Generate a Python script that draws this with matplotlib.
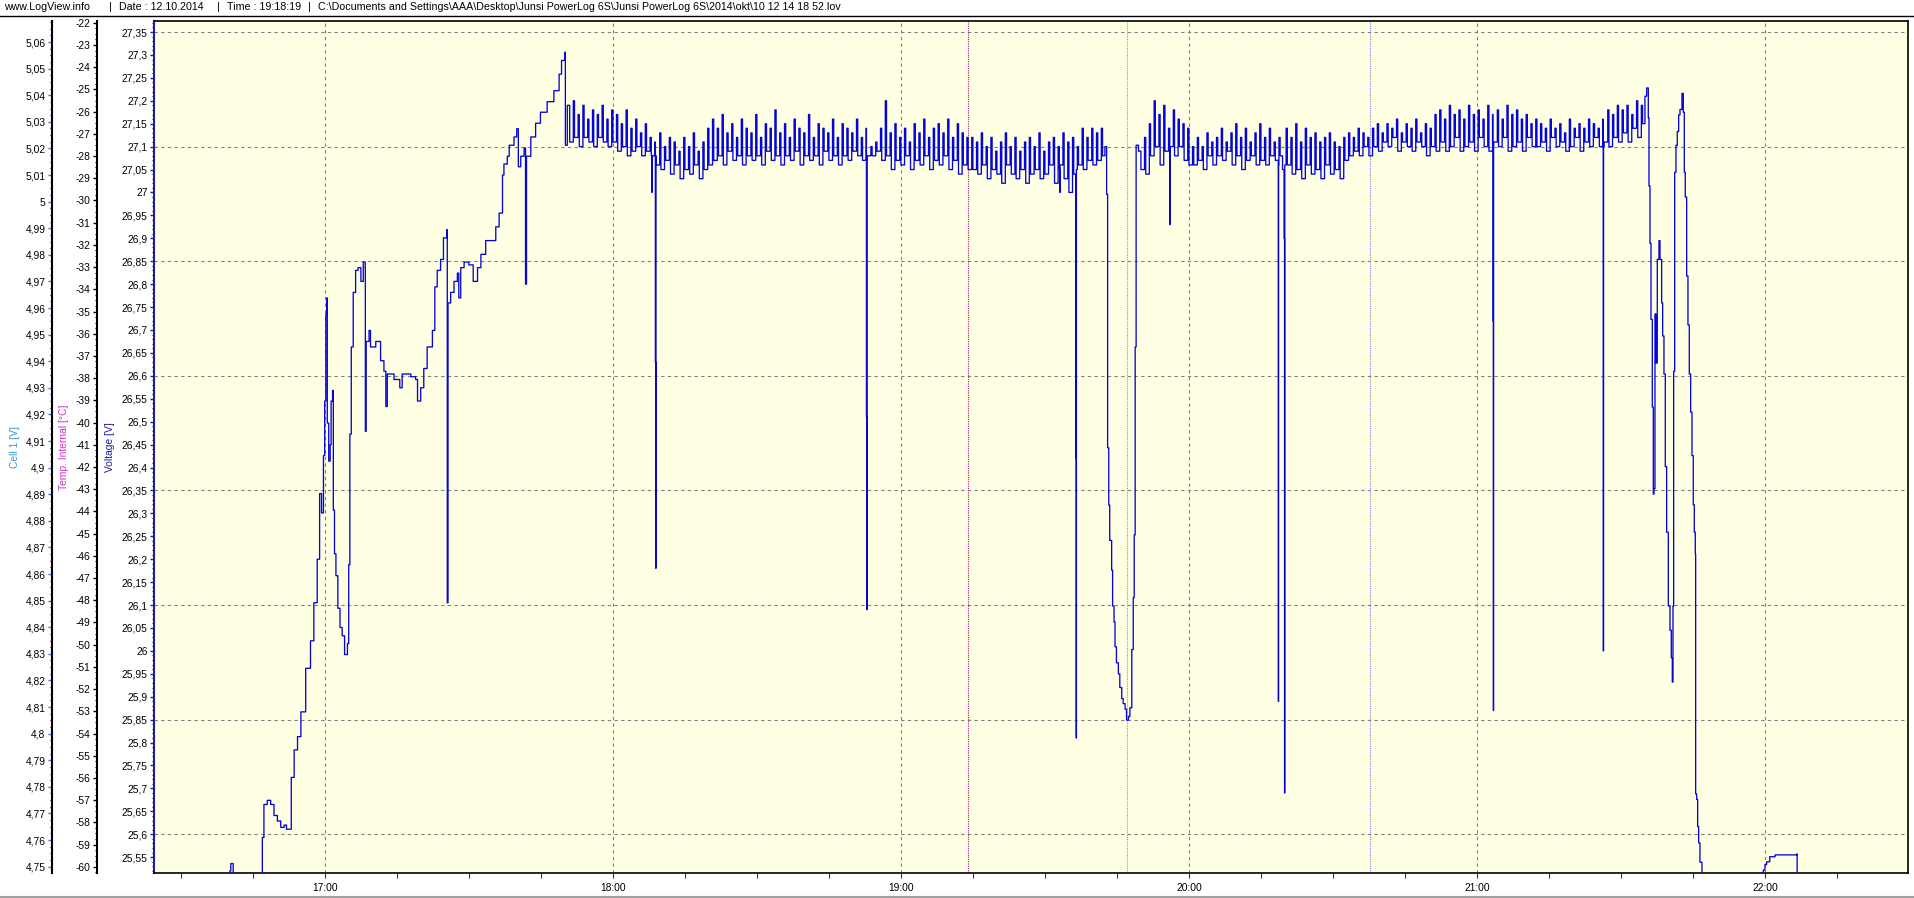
import matplotlib
matplotlib.use('Agg')
import matplotlib.pyplot as plt
from matplotlib.lines import Line2D
from matplotlib.ticker import FixedLocator, FuncFormatter, MultipleLocator
import numpy as np

plt.rcParams['font.family'] = ['Liberation Sans', 'DejaVu Sans']
plt.rcParams['font.size'] = 7.4

header_parts = ["www.LogView.info", "|", "Date : 12.10.2014", "|", "Time : 19:18:19", "|",
                "C:\\Documents and Settings\\AAA\\Desktop\\Junsi PowerLog 6S\\Junsi PowerLog 6S"
                "\\2014\\okt\\10 12 14 18 52.lov"]

# all times are minutes after 16:00
# start of charge, the rise up to the first plateau (time, voltage)
rise = [(30.0, 25.30), (40.0, 25.30), (40.2, 25.52), (40.4, 25.536), (40.8, 25.536),
        (40.9, 25.30), (46.6, 25.30), (46.97, 25.593), (47.3, 25.665), (48.0, 25.674),
        (48.7, 25.665), (49.4, 25.641), (50.1, 25.629), (50.8, 25.615), (51.5, 25.62),
        (52.0, 25.611), (52.7, 25.611), (53.0, 25.724), (53.6, 25.784), (54.3, 25.813),
        (55.0, 25.867), (56.0, 25.962), (57.0, 26.022), (57.7, 26.105), (58.4, 26.200),
        (58.9, 26.343), (59.3, 26.301), (59.7, 26.426), (59.96, 26.545), (60.2, 26.735),
        (60.4, 26.770), (60.5, 26.497), (60.8, 26.414), (61.1, 26.450), (61.3, 26.545),
        (61.6, 26.568), (61.76, 26.307), (62.0, 26.212), (62.3, 26.164), (62.7, 26.093),
        (63.15, 26.051), (63.6, 26.033), (64.1, 25.992), (64.7, 26.016), (64.96, 26.188),
        (65.2, 26.473), (65.5, 26.663), (65.9, 26.782), (66.4, 26.830), (66.9, 26.836),
        (67.5, 26.806), (68.0, 26.848), (68.4, 26.836), (68.43, 26.479), (68.6, 26.675),
        (69.2, 26.699), (69.5, 26.663), (70.6, 26.675), (71.6, 26.633), (72.3, 26.610),
        (72.7, 26.533), (73.0, 26.604), (74.4, 26.592), (75.6, 26.574), (76.1, 26.604),
        (77.9, 26.598), (78.9, 26.592), (79.3, 26.545), (79.96, 26.574), (80.6, 26.616),
        (81.3, 26.663), (82.4, 26.699), (82.9, 26.794), (83.4, 26.830), (84.1, 26.854),
        (84.7, 26.901), (85.4, 26.919), (85.5, 26.105), (85.65, 26.759), (86.2, 26.782),
        (86.9, 26.806), (87.6, 26.824), (87.9, 26.770), (88.3, 26.836), (89.0, 26.848),
        (90.0, 26.842), (90.9, 26.806), (91.8, 26.836), (92.5, 26.865), (93.5, 26.895),
        (94.9, 26.895), (95.6, 26.925), (96.3, 26.955), (97.0, 27.038), (97.3, 27.062),
        (98.0, 27.079), (98.4, 27.103), (99.4, 27.121), (99.96, 27.139), (100.3, 27.056),
        (100.8, 27.079), (101.5, 27.097), (101.8, 26.800), (102.0, 27.079), (102.9, 27.121),
        (103.9, 27.151), (104.9, 27.175), (106.3, 27.198), (107.7, 27.222), (108.8, 27.258),
        (109.3, 27.288), (110.0, 27.306), (110.1, 27.103)]

# first plateau, one reading every half minute from 110.5 min
plateau1_start = 110.5
plateau1 = [
    27.19, 27.11, 27.20, 27.12, 27.17, 27.10, 27.19, 27.12, 27.16, 27.11,
    27.18, 27.10, 27.17, 27.12, 27.19, 27.11, 27.16, 27.10, 27.18, 27.11,
    27.17, 27.09, 27.15, 27.10, 27.18, 27.08, 27.14, 27.09, 27.16, 27.10,
    27.13, 27.08, 27.15, 27.09, 27.12, 27.08,
    27.11, 27.06, 27.13, 27.05, 27.10, 27.07, 27.12, 27.04, 27.11, 27.06,
    27.09, 27.03, 27.12, 27.05, 27.10, 27.04, 27.13, 27.06, 27.09, 27.03,
    27.11, 27.05, 27.14, 27.06,
    27.16, 27.07, 27.14, 27.08, 27.17, 27.06, 27.13, 27.09, 27.15, 27.07,
    27.12, 27.08, 27.16, 27.06, 27.14, 27.08, 27.13, 27.07, 27.17, 27.08,
    27.12, 27.06, 27.15, 27.09, 27.14, 27.07, 27.18, 27.08, 27.13, 27.06,
    27.15, 27.08, 27.12, 27.07, 27.16, 27.09, 27.14, 27.06, 27.13, 27.08,
    27.17, 27.07, 27.12, 27.08, 27.15, 27.06, 27.14, 27.09, 27.13, 27.07,
    27.16, 27.08, 27.12, 27.06, 27.15, 27.08, 27.14, 27.07, 27.13, 27.09,
    27.16, 27.08, 27.12, 27.07, 27.14, 27.08,
    27.10, 27.08, 27.11, 27.09, 27.14, 27.07, 27.20, 27.08, 27.13, 27.05,
    27.15, 27.07, 27.12, 27.06, 27.14, 27.08, 27.11, 27.05, 27.15, 27.07,
    27.13, 27.06, 27.16, 27.08, 27.12, 27.05, 27.14, 27.07, 27.15, 27.06,
    27.13, 27.08, 27.16, 27.05, 27.12, 27.07, 27.15, 27.04, 27.13, 27.06,
    27.12, 27.05,
    27.12, 27.05, 27.11, 27.04, 27.13, 27.06, 27.10, 27.03, 27.12, 27.05,
    27.09, 27.04, 27.11, 27.02, 27.13, 27.06, 27.10, 27.04, 27.12, 27.03,
    27.09, 27.05, 27.11, 27.02, 27.12, 27.04, 27.10, 27.05, 27.13, 27.03,
    27.09, 27.04, 27.11, 27.06, 27.12, 27.02, 27.10, 27.05, 27.13, 27.03,
    27.11, 27.00, 27.12, 27.04, 27.10, 27.06, 27.14, 27.05, 27.12, 27.07,
    27.14, 27.06, 27.13, 27.07, 27.14, 27.08, 27.10]

# deep dip around 19:45 and recovery
dip = [(222.85, 26.996), (223.06, 26.443), (223.3, 26.318), (223.5, 26.241),
       (223.9, 26.176), (224.1, 26.098), (224.4, 26.063), (224.6, 26.009),
       (224.9, 25.974), (225.3, 25.950), (225.6, 25.920), (226.0, 25.896),
       (226.3, 25.885), (226.7, 25.873), (227.0, 25.849), (227.4, 25.857),
       (227.7, 25.876), (228.1, 26.003), (228.4, 26.116), (228.6, 26.253),
       (228.8, 26.663), (229.0, 27.103)]

# second plateau, one reading every half minute from 229.5 min
plateau2_start = 229.5
plateau2 = [
    27.09, 27.05, 27.12, 27.04, 27.15, 27.08, 27.20, 27.10, 27.17, 27.06,
    27.19, 27.09, 27.14, 27.11, 27.18, 27.08, 27.16, 27.10, 27.15, 27.07,
    27.14, 27.06,
    27.10, 27.06, 27.12, 27.07, 27.10, 27.05, 27.13, 27.08, 27.11, 27.06,
    27.12, 27.08, 27.14, 27.07, 27.11, 27.09, 27.13, 27.06, 27.15, 27.08,
    27.12, 27.05, 27.14, 27.07, 27.11, 27.08, 27.13, 27.06, 27.15, 27.07,
    27.12, 27.06, 27.14, 27.08, 27.11, 27.07, 27.12,
    27.08, 27.05, 27.14, 27.06, 27.12, 27.04, 27.15, 27.05, 27.11, 27.03,
    27.14, 27.06, 27.12, 27.04, 27.13, 27.05, 27.11, 27.03, 27.12, 27.06,
    27.13, 27.04, 27.11, 27.05, 27.10, 27.03,
    27.12, 27.07, 27.13, 27.08, 27.12, 27.09, 27.14, 27.08, 27.13, 27.10,
    27.12, 27.08,
    27.14, 27.10, 27.15, 27.09, 27.13, 27.11, 27.15, 27.10, 27.14, 27.12,
    27.16, 27.09, 27.13, 27.11, 27.15, 27.10, 27.14, 27.09, 27.16, 27.11,
    27.13, 27.10, 27.15, 27.08, 27.14,
    27.10, 27.17, 27.09, 27.18, 27.11, 27.16, 27.09, 27.19, 27.10, 27.17,
    27.12, 27.18, 27.09, 27.16, 27.10, 27.19, 27.11, 27.17, 27.09, 27.18,
    27.12, 27.16, 27.10, 27.19, 27.09, 27.17, 27.11, 27.18, 27.10, 27.16,
    27.12, 27.19, 27.09, 27.17, 27.10, 27.18, 27.11, 27.16, 27.09, 27.17,
    27.12, 27.15, 27.10, 27.16,
    27.10, 27.15, 27.11, 27.14, 27.09, 27.16, 27.12, 27.14, 27.10, 27.15,
    27.11, 27.13, 27.09, 27.16, 27.10, 27.14, 27.12, 27.15, 27.09, 27.14,
    27.11, 27.16, 27.10, 27.15, 27.12, 27.14, 27.10, 27.16, 27.11, 27.18,
    27.10, 27.17, 27.12, 27.19, 27.11, 27.18, 27.13, 27.19, 27.11, 27.17,
    27.14, 27.20, 27.12, 27.19, 27.15, 27.21]

# short drops on the plateaus, each with its recovery reading
drops = [(128.1, 27.00), (128.16, 27.08),
         (128.85, 26.63), (128.93, 26.18), (128.97, 27.08),
         (172.82, 26.51), (172.9, 26.09), (172.95, 27.07),
         (213.1, 27.00), (213.16, 27.06),
         (216.42, 26.42), (216.52, 25.81), (216.56, 27.05),
         (236.02, 26.93), (236.08, 27.10),
         (258.62, 25.89), (258.68, 27.06),
         (259.82, 26.90), (259.92, 25.69), (259.97, 27.06),
         (303.32, 26.72), (303.42, 25.87), (303.47, 27.10),
         (326.32, 26.00), (326.38, 27.10)]

# end of the log
tail = [(335.35, 27.228), (335.7, 27.163), (335.84, 27.014), (336.05, 26.889),
        (336.26, 26.723), (336.53, 26.532), (336.74, 26.342), (336.88, 26.354),
        (337.09, 26.735), (337.3, 26.628), (337.57, 26.854), (337.92, 26.895),
        (338.13, 26.854), (338.48, 26.759), (338.69, 26.687), (338.96, 26.604),
        (339.24, 26.402), (339.52, 26.259), (339.87, 26.098), (340.21, 26.045),
        (340.49, 25.985), (340.7, 25.932), (340.84, 26.098), (340.98, 26.610),
        (341.19, 27.044), (341.46, 27.103), (341.74, 27.133), (342.02, 27.169),
        (342.3, 27.181), (342.71, 27.216), (342.99, 27.175), (343.2, 27.044),
        (343.4, 26.990), (343.69, 26.818), (343.96, 26.711), (344.24, 26.604),
        (344.52, 26.521), (344.8, 26.426), (345.07, 26.319), (345.28, 26.259),
        (345.49, 26.211), (345.56, 25.688), (345.77, 25.676), (345.98, 25.617),
        (346.19, 25.581), (346.46, 25.539), (346.88, 25.50), (347.2, 25.30),
        (359.3, 25.30), (359.45, 25.515), (359.66, 25.522), (360.0, 25.534),
        (360.35, 25.540), (361.0, 25.551), (362.1, 25.555), (366.6, 25.557),
        (366.7, 25.30)]

# cursor lines: 19:14, 19:47, 20:38
cursors = [(193.96, '#a0208c'), (227.1, '#55c855'), (277.7, '#8080d0')]


def plateau_times(start, vals):
    # half-minute readings; the charge pulses (local peaks) are short
    t = start + 0.5 * np.arange(len(vals))
    v = np.asarray(vals)
    peak = np.r_[False, (v[1:-1] > v[:-2]) & (v[1:-1] > v[2:]), False]
    return t + 0.25 * peak


t1 = plateau_times(plateau1_start, plateau1)
t2 = plateau_times(plateau2_start, plateau2)
pts = rise + list(zip(t1, plateau1)) + dip + list(zip(t2, plateau2)) + drops + tail
pts.sort(key=lambda p: p[0])
t_all = np.array([p[0] for p in pts])
v_all = np.array([p[1] for p in pts])

W, H = 1914, 898
fig = plt.figure(figsize=(W / 100, H / 100), dpi=100)
L, R, T, B = 154, 1908, 21, 873
ax = fig.add_axes([L / W, 1 - B / H, (R - L) / W, (B - T) / H])
ax.set_facecolor('#ffffe4')

for t, c in cursors:
    ax.axvline(t, color=c, lw=0.8, ls=(0, (1, 1)), zorder=1)

ax.plot(t_all, v_all, color='#0505d8', lw=0.95, drawstyle='steps-post', zorder=3)

ax.set_xlim(24.4, 389.8)
ax.set_ylim(25.5155, 27.374)


def comma(v, n):
    s = f"{v:.{n}f}".rstrip('0').rstrip('.')
    return s.replace('.', ',')


vt = np.round(np.arange(25.55, 27.351, 0.05), 2)
ax.yaxis.set_major_locator(FixedLocator(vt))
ax.yaxis.set_major_formatter(FuncFormatter(lambda v, p: comma(v, 2)))
ax.yaxis.set_minor_locator(MultipleLocator(0.01))
ax.tick_params(axis='y', which='major', length=3, width=1, color='#1c1ca0', pad=1.5)
ax.tick_params(axis='y', which='minor', length=1.2, width=0.8, color='#1c1ca0')

ax.xaxis.set_major_locator(FixedLocator([60, 120, 180, 240, 300, 360]))
ax.xaxis.set_major_formatter(FuncFormatter(lambda m, p: f"{16 + int(m // 60)}:{int(m % 60):02d}"))
ax.xaxis.set_minor_locator(MultipleLocator(15))
ax.tick_params(axis='x', which='major', length=3.5, width=0.8, color='#333333', pad=4)
ax.tick_params(axis='x', which='minor', length=3.5, width=0.8, color='#333333')

# grid
for g in np.arange(25.6, 27.36, 0.25):
    ax.axhline(g, color='#808080', lw=0.8, ls=(0, (3, 3)), zorder=0)
for g in [60, 120, 180, 240, 300, 360]:
    ax.axvline(g, color='#808080', lw=0.8, ls=(0, (3, 3)), zorder=0)

ax.spines['left'].set_color('#1c1ca0')
ax.spines['left'].set_linewidth(1.5)
for s in ('top', 'right', 'bottom'):
    ax.spines[s].set_color('black')
    ax.spines[s].set_linewidth(1.2)

# extra y axes for temperature and cell voltage
ax_t = ax.twinx()
ax_c = ax.twinx()
for a, off in ((ax_t, 57.3), (ax_c, 102.3)):
    a.spines['left'].set_position(('axes', -off / (R - L)))
    a.spines['left'].set_visible(True)
    a.spines['left'].set_color('black')
    a.spines['left'].set_linewidth(1.5)
    for s in ('right', 'top', 'bottom'):
        a.spines[s].set_visible(False)
    a.yaxis.set_ticks_position('left')

ax_t.set_ylim(-60.28, -21.92)
ax_t.yaxis.set_major_locator(FixedLocator(np.arange(-60, -21)))
ax_t.yaxis.set_major_formatter(FuncFormatter(lambda v, p: f"{int(round(v))}"))
ax_t.yaxis.set_minor_locator(MultipleLocator(0.25))
ax_t.tick_params(axis='y', which='major', length=3, width=1, color='black', pad=1.5)
ax_t.tick_params(axis='y', which='minor', length=1.2, width=0.8, color='black')

ax_c.set_ylim(4.7476, 5.0679)
ax_c.yaxis.set_major_locator(FixedLocator(np.round(np.arange(4.75, 5.061, 0.01), 2)))
ax_c.yaxis.set_major_formatter(FuncFormatter(lambda v, p: comma(v, 2)))
ax_c.yaxis.set_minor_locator(MultipleLocator(0.0025))
ax_c.tick_params(axis='y', which='major', length=3, width=1, color='#3070c0', pad=1.5)
ax_c.tick_params(axis='y', which='minor', length=1.2, width=0.8, color='black')

# axis titles
ax.text((15 - L) / (R - L), 0.5, 'Cell 1 [V]', color='#3399cc', rotation=90,
        ha='center', va='center', transform=ax.transAxes)
ax.text((64 - L) / (R - L), 0.5, 'Temp. Internal [°C]', color='#cc33cc', rotation=90,
        ha='center', va='center', transform=ax.transAxes)
ax.text((110 - L) / (R - L), 0.5, 'Voltage [V]', color='#1c1ca0', rotation=90,
        ha='center', va='center', transform=ax.transAxes)

# header: pieces placed along the top strip
header_x = [4, 110, 119, 218, 227, 309, 318]
for x, s in zip(header_x, header_parts):
    fig.text(x / W, 1 - 7 / H, s, ha='center' if s == '|' else 'left', va='center',
             fontsize=7.7)
fig.add_artist(Line2D([0, 1], [1 - 15.5 / H, 1 - 15.5 / H], transform=fig.transFigure,
                      color='black', lw=1.0))
fig.add_artist(Line2D([0, 1], [1 - 896.5 / H, 1 - 896.5 / H], transform=fig.transFigure,
                      color='#a0a0a0', lw=1.5))

fig.savefig('out.png', dpi=100, facecolor='white')
